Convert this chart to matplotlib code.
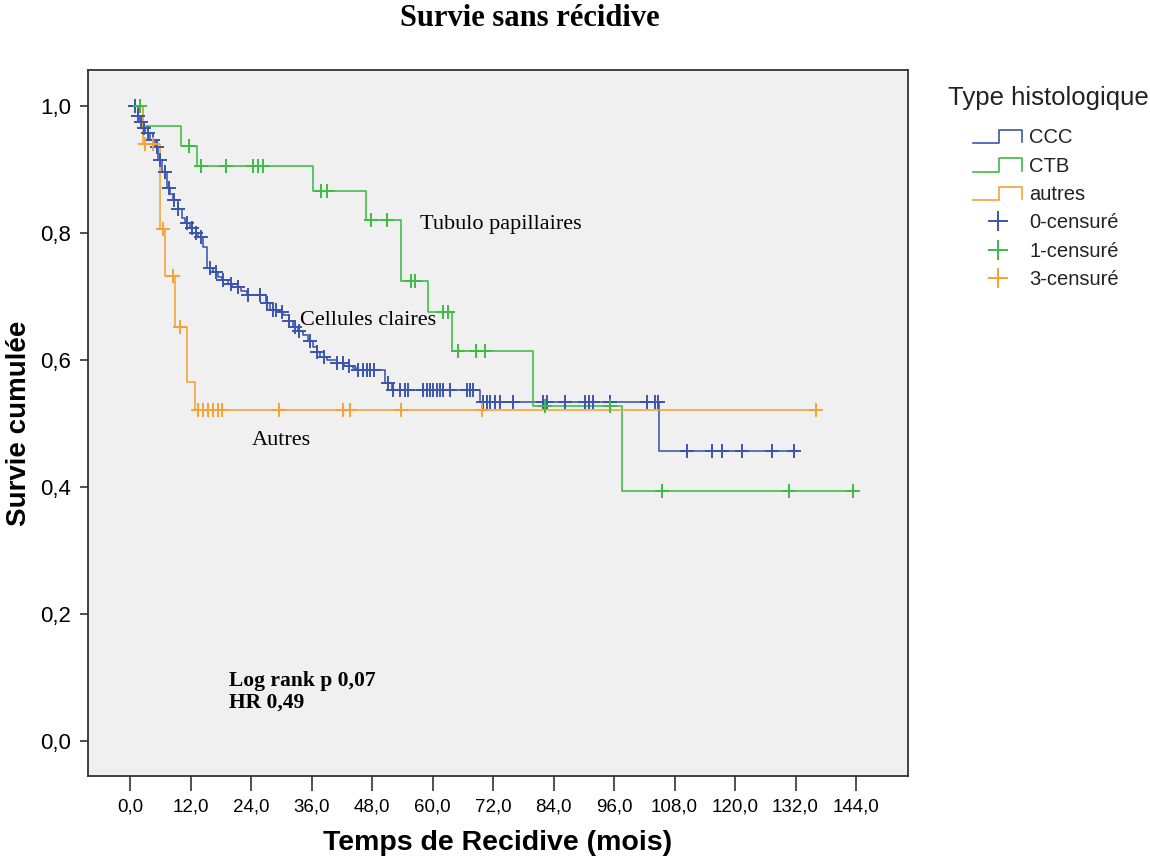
import numpy as np
import matplotlib
matplotlib.use("Agg")
import matplotlib.pyplot as plt
from matplotlib.lines import Line2D
from matplotlib.legend_handler import HandlerBase

# ---------------- data ----------------
groups = ["CCC", "CTB", "autres"]
censor_labels = ["0-censuré", "1-censuré", "3-censuré"]
legend_title = "Type histologique"

ccc_event_t = [1.5, 2.0, 2.5, 3.0, 4.0, 5.0, 5.6, 6.3, 7.3, 8.0, 8.5, 9.5, 10.3, 11.0,
               11.9, 13.0, 13.5, 14.5, 15.3, 16.5, 17.5, 18.2, 19.5, 20.2, 22.0, 23.2,
               27.0, 27.8, 29.5, 30.3, 31.5, 32.3, 33.3, 34.3, 35.3, 36.3, 37.0, 37.7,
               39.0, 41.0, 42.5, 44.2, 45.0, 50.6, 52.0, 69.4, 105.0]
ccc_event_s = [0.985, 0.975, 0.965, 0.957, 0.947, 0.935, 0.915, 0.896, 0.871, 0.862,
               0.852, 0.838, 0.824, 0.815, 0.808, 0.800, 0.794, 0.778, 0.745, 0.738,
               0.731, 0.726, 0.720, 0.715, 0.708, 0.702, 0.690, 0.679, 0.675, 0.671,
               0.662, 0.652, 0.646, 0.639, 0.630, 0.620, 0.612, 0.605, 0.600, 0.595,
               0.591, 0.587, 0.584, 0.564, 0.553, 0.534, 0.457]
ccc_censor_t = [1.0, 1.5, 2.2, 2.8, 3.5, 4.5, 5.3, 6.0, 7.0, 7.8, 8.8, 9.5, 11.3, 12.3,
                13.1, 14.0, 15.8, 17.0, 18.5, 20.0, 21.5, 23.5, 25.8, 27.2, 28.4, 29.0,
                30.2, 31.5, 32.8, 33.5, 35.6, 37.0, 38.5, 41.0, 42.3, 43.5, 45.2, 46.2,
                47.0, 47.6, 48.4, 51.2, 52.2, 53.6, 54.5, 55.1, 58.1, 58.9, 59.5, 60.1,
                60.9, 61.5, 62.1, 63.5, 66.8, 67.4, 68.0, 70.0, 70.8, 71.4, 72.4, 73.4,
                75.9, 81.9, 82.7, 86.3, 90.2, 91.0, 91.8, 95.2, 102.5, 104.1, 104.7,
                110.5, 115.4, 117.5, 121.3, 127.3, 131.7]
ccc_end = 131.7

ctb_event_t = [2.5, 10.1, 13.3, 36.3, 46.8, 53.8, 59.1, 63.9, 80.0, 97.6]
ctb_event_s = [0.969, 0.937, 0.905, 0.866, 0.821, 0.725, 0.675, 0.614, 0.528, 0.394]
ctb_censor_t = [2.0, 11.8, 14.0, 19.0, 24.4, 25.4, 26.4, 37.9, 39.0, 47.8, 50.9, 55.8,
                56.6, 62.1, 63.1, 65.1, 68.6, 70.4, 82.3, 95.2, 105.5, 130.7, 143.3]
ctb_end = 143.3

aut_event_t = [2.6, 5.9, 6.9, 8.9, 11.3, 12.9]
aut_event_s = [0.940, 0.806, 0.733, 0.652, 0.565, 0.521]
aut_censor_t = [3.0, 4.6, 6.6, 8.6, 9.9, 13.5, 14.5, 15.5, 16.5, 17.5, 18.2, 29.6,
                42.2, 43.6, 53.7, 69.8, 136.0]
aut_end = 136.0

x_ticks = [0, 12, 24, 36, 48, 60, 72, 84, 96, 108, 120, 132, 144]
y_ticks = [0.0, 0.2, 0.4, 0.6, 0.8, 1.0]

colors = ["#3b55ae", "#3dbb44", "#f7a231"]

# ---------------- figure ----------------
fig = plt.figure(figsize=(11.5, 8.6), dpi=100)
fig.patch.set_facecolor("white")
ax = fig.add_axes([88 / 1150, 1 - 776 / 860, (908 - 88) / 1150, (776 - 70) / 860])
ax.set_facecolor("#f0f0f0")

series = [
    (ccc_event_t, ccc_event_s, ccc_censor_t, ccc_end),
    (ctb_event_t, ctb_event_s, ctb_censor_t, ctb_end),
    (aut_event_t, aut_event_s, aut_censor_t, aut_end),
]

for (et, es, ct, end), col in zip(series, colors):
    t = np.array([0.0] + list(et) + [end])
    s = np.array([1.0] + list(es) + [es[-1]])
    ax.step(t, s, where="post", color=col, lw=1.15, zorder=3)
    levels = np.array([1.0] + list(es))
    idx = np.searchsorted(np.array(et), np.array(ct), side="right")
    ax.plot(ct, levels[idx], linestyle="none", marker="+", ms=10, mew=1.4,
            color=col, zorder=4)

ax.set_xlim(-8.33, 154.3)
ax.set_ylim(-0.055, 1.0567)
ax.set_xticks(x_ticks)
ax.set_xticklabels([f"{v:.1f}".replace(".", ",") for v in x_ticks],
                   fontsize=13.5, family="Liberation Sans")
ax.set_yticks(y_ticks)
ax.set_yticklabels([f"{v:.1f}".replace(".", ",") for v in y_ticks],
                   fontsize=16, family="Liberation Sans")
ax.tick_params(axis="x", length=11, width=1.2, color="#333333", pad=5)
ax.tick_params(axis="y", length=6, width=1.2, color="#333333", pad=6)
for sp in ax.spines.values():
    sp.set_color("#333333")
    sp.set_linewidth(1.3)

ax.set_xlabel("Temps de Recidive (mois)", fontsize=20.5, fontweight="bold",
              family="Liberation Sans", labelpad=11)
ax.set_ylabel("Survie cumulée", fontsize=20, fontweight="bold",
              family="Liberation Sans", labelpad=6)

fig.text(530 / 1150, 1 - 19 / 860, "Survie sans récidive", ha="center", va="center",
         fontsize=22, fontweight="bold", family="Liberation Serif")

ser = dict(family="Liberation Serif", fontsize=16)
ax.text(57.5, 0.814, "Tubulo papillaires", ha="left", va="center", **ser)
ax.text(33.7, 0.663, "Cellules claires", ha="left", va="center", **ser)
ax.text(24.2, 0.474, "Autres", ha="left", va="center", **ser)
ax.text(19.6, 0.094, "Log rank p 0,07", ha="left", va="center", fontweight="bold",
        family="Liberation Serif", fontsize=15.5)
ax.text(19.6, 0.060, "HR 0,49", ha="left", va="center", fontweight="bold",
        family="Liberation Serif", fontsize=15.5)


# ---------------- legend ----------------
class StepHandler(HandlerBase):
    def create_artists(self, legend, orig_handle, xdescent, ydescent, width, height,
                       fontsize, trans):
        x0, x1 = -xdescent, -xdescent + width
        y0 = -ydescent
        xm = x0 + 0.52 * width
        lo = y0 + 0.0 * height
        hi = y0 + 0.95 * height
        xs = [x0, xm, xm, x1, x1]
        ys = [lo, lo, hi, hi, lo + 0.05 * height]
        ln = Line2D(xs, ys, color=orig_handle.get_color(), lw=1.2, transform=trans)
        return [ln]


fig.text(948 / 1150, 1 - 98 / 860, legend_title, ha="left", va="center",
         fontsize=18.5, family="Liberation Sans", color="#222222")

step_handles = [Line2D([], [], color=c) for c in colors]
cens_handles = [Line2D([], [], linestyle="none", marker="+", ms=15, mew=1.4, color=c)
                for c in colors]
handler_map = {h: StepHandler() for h in step_handles}
leg = fig.legend(step_handles + cens_handles, groups + censor_labels,
                 handler_map=handler_map, loc="upper left",
                 bbox_to_anchor=(965 / 1150, 1 - 120 / 860), frameon=False,
                 prop=dict(family="Liberation Sans", size=14.5),
                 handlelength=2.45, handletextpad=0.33, labelspacing=0.47,
                 borderaxespad=0)
for txt in leg.get_texts():
    txt.set_color("#222222")

fig.savefig("out.png", dpi=100)
